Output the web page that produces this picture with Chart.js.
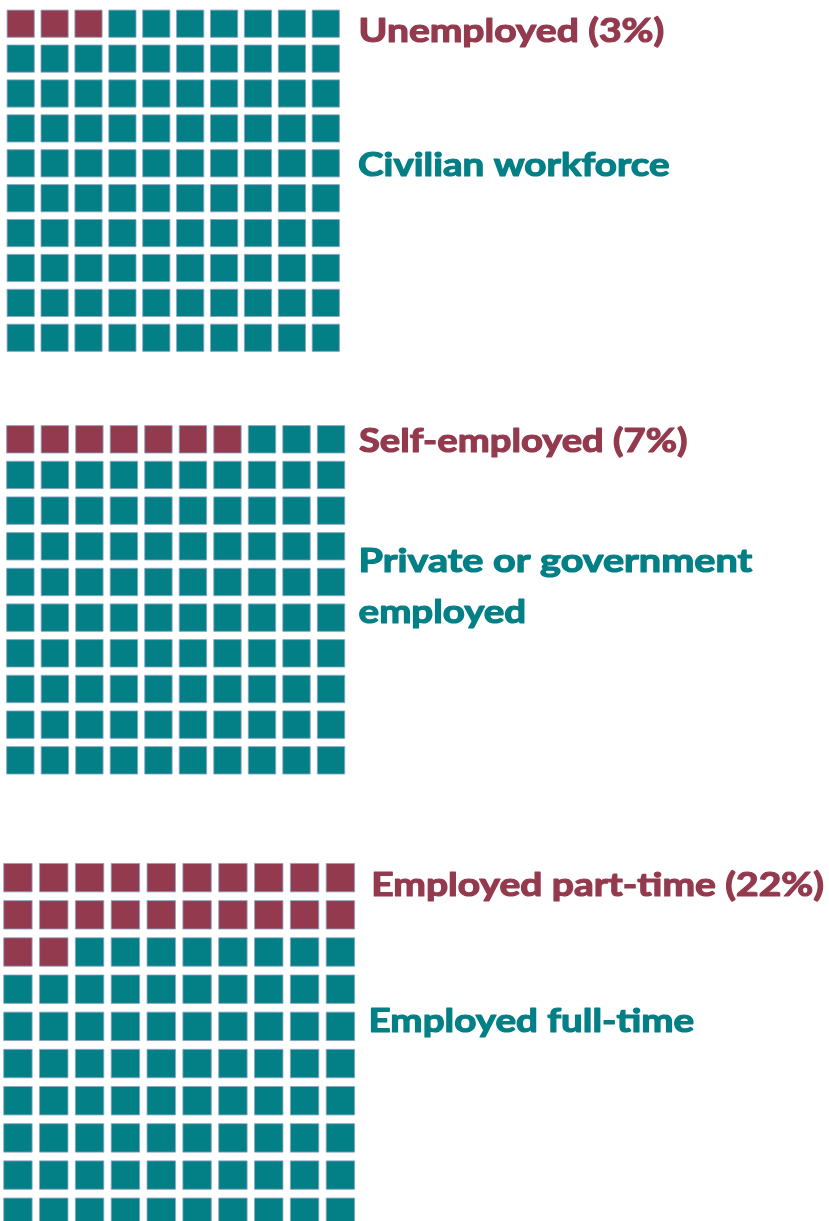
<!DOCTYPE html>
<html>
<head>
<meta charset="utf-8">
<script src="https://cdn.jsdelivr.net/npm/chart.js@4.4.1/dist/chart.umd.min.js"></script>
<style>
  html, body { margin: 0; padding: 0; background: #fff; overflow: hidden; width: 829px; height: 1221px; }
  canvas { position: absolute; left: 0; }
</style>
</head>
<body>
<canvas id="waffle-1" width="829" height="380" style="top:0px"></canvas>
<canvas id="waffle-2" width="829" height="390" style="top:400px"></canvas>
<canvas id="waffle-3" width="829" height="400" style="top:845px"></canvas>

<script>
// share of the 100 squares that is highlighted in each waffle (percent)
const highlightShare = [3, 7, 22];
const highlightLabels = ['Unemployed (3%)', 'Self-employed (7%)', 'Employed part-time (22%)'];
const restLabels = [['Civilian workforce'], ['Private or government', 'employed'], ['Employed full-time']];
const gridCols = 10;
const gridRows = 10;

const RED = '#943a4e';
const TEAL = '#037f86';
const EDGE = 'rgba(140,163,196,0.85)';

// layout of each panel: canvas id, canvas top on page, first cell centre, cell pitch, square size,
// and where the label lines sit (x, baseline, fitted width), all in page pixels
const panels = [
  { id: 'waffle-1', top: 0, h: 380, cx: 20.7, cy: 23.7, px: 33.9, py: 34.9, side: 27.2,
    head: { x: 358, y: 42, w: 307 },
    rest: [{ x: 357.5, y: 175.5, w: 313 }] },
  { id: 'waffle-2', top: 400, h: 390, cx: 20.35, cy: 439.3, px: 34.52, py: 35.67, side: 27.4,
    head: { x: 358.3, y: 452.3, w: 330 },
    rest: [{ x: 358, y: 572.3, w: 395 }, { x: 358, y: 623.3, w: 169 }] },
  { id: 'waffle-3', top: 845, h: 400, cx: 17, cy: 877.65, px: 35.93, py: 37.18, side: 28.4,
    head: { x: 370.7, y: 896, w: 454 },
    rest: [{ x: 368, y: 1031.7, w: 327 }] }
];

function cellsFor(share) {
  const on = [], off = [];
  for (let i = 0; i < gridCols * gridRows; i++) {
    const cell = { x: i % gridCols, y: Math.floor(i / gridCols) };
    (i < share ? on : off).push(cell);
  }
  return { on, off };
}

// draws a label squeezed/stretched to its width, with a thin outline to thicken the strokes
function drawFitted(ctx, text, color, spot, top) {
  ctx.save();
  ctx.font = 'bold 33px Lato';
  ctx.fillStyle = color;
  ctx.strokeStyle = color;
  ctx.lineWidth = 1.2;
  ctx.lineJoin = 'round';
  ctx.textBaseline = 'alphabetic';
  const natural = ctx.measureText(text).width + 1.2;
  ctx.translate(spot.x + 0.6, spot.y - top);
  ctx.scale(spot.w / natural, 1);
  ctx.fillText(text, 0, 0);
  ctx.strokeText(text, 0, 0);
  ctx.restore();
}

panels.forEach((p, k) => {
  const canvas = document.getElementById(p.id);
  const cells = cellsFor(highlightShare[k]);
  const localY = p.cy - p.top;
  const radius = p.side / Math.SQRT2;

  const sideLabels = {
    id: 'sideLabels',
    afterDraw(chart) {
      const ctx = chart.ctx;
      drawFitted(ctx, highlightLabels[k], RED, p.head, p.top);
      restLabels[k].forEach((t, j) => drawFitted(ctx, t, TEAL, p.rest[j], p.top));
    }
  };

  const squareStyle = {
    pointStyle: 'rect',
    pointRadius: radius,
    pointHoverRadius: radius,
    borderColor: EDGE,
    borderWidth: 1,
    pointHoverBorderWidth: 1
  };

  new Chart(canvas.getContext('2d'), {
    type: 'scatter',
    data: {
      datasets: [
        Object.assign({ label: highlightLabels[k], data: cells.on, backgroundColor: RED }, squareStyle),
        Object.assign({ label: restLabels[k].join(' '), data: cells.off, backgroundColor: TEAL }, squareStyle)
      ]
    },
    options: {
      responsive: false,
      animation: false,
      events: [],
      clip: false,
      layout: {
        autoPadding: false,
        padding: {
          left: p.cx - p.px / 2,
          right: 829 - (p.cx + (gridCols - 0.5) * p.px),
          top: localY - p.py / 2,
          bottom: p.h - (localY + (gridRows - 0.5) * p.py)
        }
      },
      scales: {
        x: { type: 'linear', min: -0.5, max: gridCols - 0.5, display: false },
        y: { type: 'linear', min: -0.5, max: gridRows - 0.5, reverse: true, display: false }
      },
      plugins: {
        legend: { display: false },
        tooltip: { enabled: false }
      }
    },
    plugins: [sideLabels]
  });
});
</script>
</body>
</html>
